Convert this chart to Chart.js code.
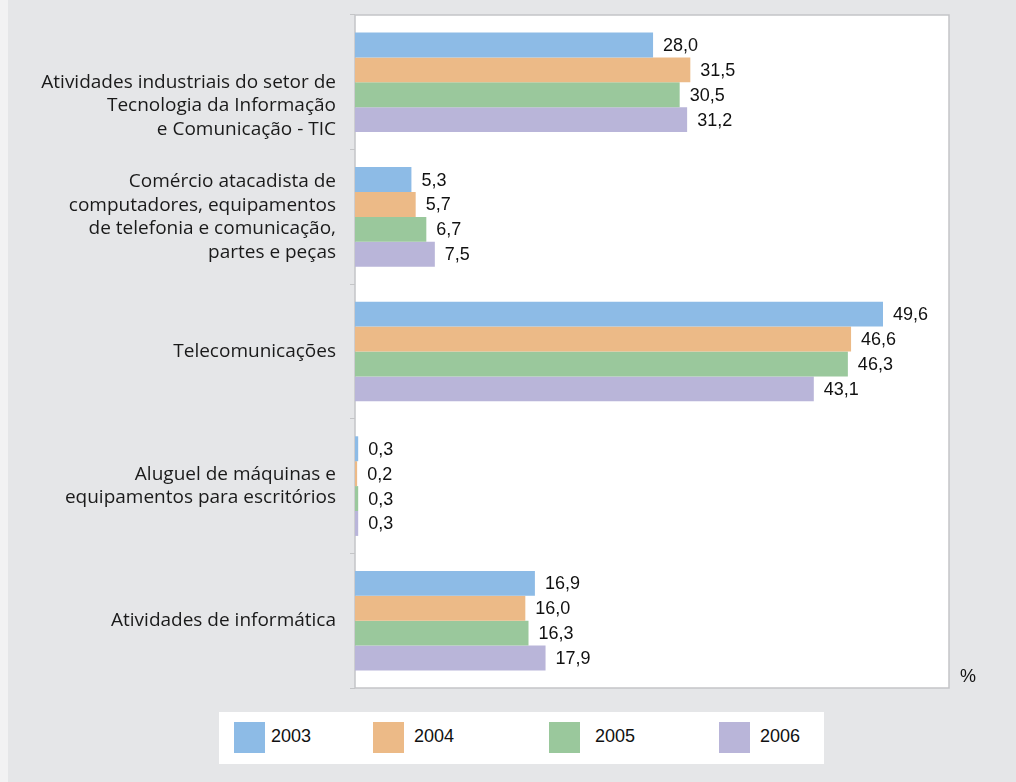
<!DOCTYPE html>
<html>
<head>
<meta charset="utf-8">
<script src="https://cdn.jsdelivr.net/npm/chart.js@4"></script>
<style>
  html, body { margin: 0; padding: 0; }
  body { width: 1016px; height: 782px; background: #e5e6e8; position: relative; overflow: hidden; }
  #strip { position: absolute; left: 0; top: 0; width: 8px; height: 782px; background: #f2f2f3; }
  #wrap { position: absolute; left: 0; top: 0; width: 1016px; height: 782px; }
  #legend { position: absolute; left: 219px; top: 712px; width: 605px; height: 52px; background: #fff; }
  .sq { position: absolute; top: 10px; width: 31px; height: 31px; }
  .lt { position: absolute; top: 14px; font: 18px 'Liberation Sans', Arial, sans-serif; color: #111; }
</style>
</head>
<body>
<div id="strip"></div>
<div id="wrap"><canvas id="chart"></canvas></div>
<div id="legend"></div>
<script>
// the first label sits lower than its group in the original, hence the two empty lines
const categories = [
  ['', '', 'Atividades industriais do setor de', 'Tecnologia da Informação', 'e Comunicação - TIC'],
  ['Comércio atacadista de', 'computadores, equipamentos', 'de telefonia e comunicação,', 'partes e peças'],
  'Telecomunicações',
  ['Aluguel de máquinas e', 'equipamentos para escritórios'],
  'Atividades de informática'
];
const years = ['2003', '2004', '2005', '2006'];
const values2003 = [28.0, 5.3, 49.6, 0.3, 16.9];
const values2004 = [31.5, 5.7, 46.6, 0.2, 16.0];
const values2005 = [30.5, 6.7, 46.3, 0.3, 16.3];
const values2006 = [31.2, 7.5, 43.1, 0.3, 17.9];
const colors = ['#8dbbe6', '#ecba87', '#9ac89c', '#b9b5d9'];

const series = [values2003, values2004, values2005, values2006];

// white plot area with grey frame, plus the % unit
const frame = {
  id: 'frame',
  beforeDatasetsDraw(chart) {
    const { ctx, chartArea: a } = chart;
    ctx.save();
    ctx.fillStyle = '#fff';
    ctx.fillRect(a.left, a.top, a.right - a.left, a.bottom - a.top);
    ctx.strokeStyle = '#c4c5c7';
    ctx.lineWidth = 1.5;
    ctx.strokeRect(a.left, a.top, a.right - a.left, a.bottom - a.top);
    ctx.restore();
  },
  afterDraw(chart) {
    const { ctx, chartArea: a } = chart;
    ctx.save();
    ctx.font = "18px 'Liberation Sans', Arial, sans-serif";
    ctx.fillStyle = '#111';
    ctx.textBaseline = 'middle';
    ctx.fillText('%', a.right + 11, a.bottom - 11);
    ctx.restore();
  }
};

// value labels at the end of every bar
const valueLabels = {
  id: 'valueLabels',
  afterDatasetsDraw(chart) {
    const { ctx } = chart;
    ctx.save();
    ctx.font = "18px 'Liberation Sans', Arial, sans-serif";
    ctx.fillStyle = '#111';
    ctx.textBaseline = 'middle';
    chart.data.datasets.forEach((ds, i) => {
      chart.getDatasetMeta(i).data.forEach((bar, j) => {
        const txt = ds.data[j].toFixed(1).replace('.', ',');
        ctx.fillText(txt, bar.x + 10, bar.y + 1);
      });
    });
    ctx.restore();
  }
};

const chart = new Chart(document.getElementById('chart'), {
  type: 'bar',
  data: {
    labels: categories,
    datasets: years.map((y, i) => ({
      label: y,
      data: series[i],
      backgroundColor: colors[i],
      borderWidth: 0,
      barPercentage: 1,
      categoryPercentage: 0.74
    }))
  },
  options: {
    indexAxis: 'y',
    responsive: true,
    maintainAspectRatio: false,
    animation: false,
    layout: {
      padding: { top: 15, right: 67, bottom: 94, left: 0 }
    },
    plugins: {
      legend: { display: false },
      tooltip: { enabled: false }
    },
    scales: {
      x: {
        display: false,
        min: 0,
        max: 55.8
      },
      y: {
        afterFit(scale) {
          scale.width = 355;
          scale.paddingTop = 0;
          scale.paddingBottom = 0;
        },
        grid: {
          offset: true,
          drawOnChartArea: false,
          drawTicks: true,
          tickLength: 5,
          color: '#c4c5c7'
        },
        border: { display: false },
        ticks: {
          padding: 14,
          color: '#1a1a1a',
          font: { family: "'Open Sans', sans-serif", size: 19, lineHeight: 1.24 }
        }
      }
    }
  },
  plugins: [frame, valueLabels]
});

// legend box below the chart
const squareX = [15, 154, 330, 500];
const textX = [52, 195, 376, 541];
const legend = document.getElementById('legend');
chart.data.datasets.forEach((ds, i) => {
  const sq = document.createElement('div');
  sq.className = 'sq';
  sq.style.left = squareX[i] + 'px';
  sq.style.background = ds.backgroundColor;
  const t = document.createElement('div');
  t.className = 'lt';
  t.style.left = textX[i] + 'px';
  t.textContent = ds.label;
  legend.appendChild(sq);
  legend.appendChild(t);
});
</script>
</body>
</html>
